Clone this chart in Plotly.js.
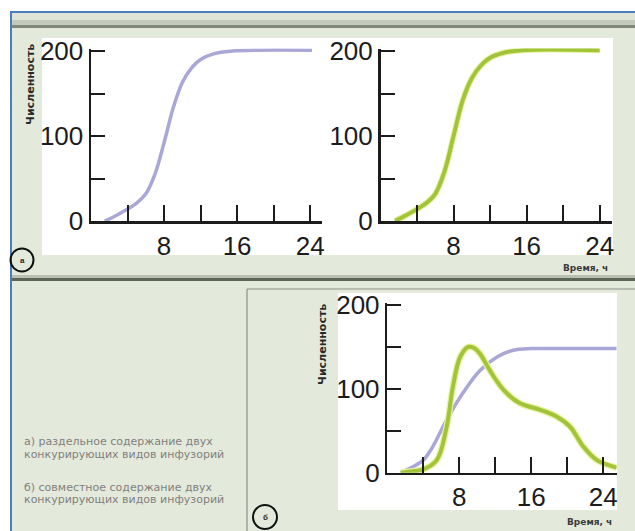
<!DOCTYPE html>
<html><head><meta charset="utf-8">
<script src="https://cdn.plot.ly/plotly-3.0.1.min.js"></script>
<style>html,body{margin:0;padding:0;background:#fff;}#chart{width:635px;height:531px;}</style>
</head><body><div id="chart"></div>
<script>
// ---- data ----
const xTickVals = [4, 8, 12, 16, 20, 24];
const xTickText = ['', '8', '', '16', '', '24'];
const yTickVals = [0, 50, 100, 150, 200];
const yTickText = ['0', '', '100', '', '200'];

// (а) separate cultures — species 1 (lavender)
const aSp1Time = [1.5, 2.5, 4, 5, 6, 7, 8, 9, 10, 11, 12, 13.5, 15.5, 18, 24.2];
const aSp1Count = [0, 5, 14, 21, 32, 55, 92, 133, 163, 180, 190, 197, 200, 201, 201];
// (а) separate cultures — species 2 (green)
const aSp2Time = [1.6, 2.5, 4, 5, 6, 7, 8, 9, 10, 11, 12, 13.5, 15.5, 24];
const aSp2Count = [0, 5, 14, 21, 32, 58, 100, 142, 168, 183, 192, 198, 201, 201];
// (б) joint culture — species 1 (lavender)
const bSp1Time = [1.5, 3, 4, 5, 6.6, 8.4, 10.3, 12.2, 14, 16, 20, 25.5];
const bSp1Count = [0, 8, 15, 30, 63, 95, 122, 138, 146, 148, 148, 148];
// (б) joint culture — species 2 (green)
const bSp2Time = [1.5, 3, 4, 5.5, 6.6, 7.3, 8.1, 9, 9.6, 10.3, 11.4, 12.9, 14.7, 17, 18.8, 20.3, 21.8, 23.3, 25.5];
const bSp2Count = [0, 2, 4, 15, 55, 103, 138, 150, 149, 142, 122, 99, 83, 75, 67, 55, 31, 15, 6];

const yTitle = 'Численность';
const xTitle = 'Время, ч';
const captionLines = [
  'а) раздельное содержание двух',
  'конкурирующих видов инфузорий',
  'б) совместное содержание двух',
  'конкурирующих видов инфузорий'
];

// ---- styling ----
const W = 635, H = 531;
const px = x => x / W;
const py = y => 1 - y / H;
const PURPLE = '#a9a6d8';
const GREEN = '#a2c43a';
const HALO = '#e6f29a';
const INK = '#1c1c1c';
const PANEL = '#e4eadb';
const NUMFONT = "'Liberation Sans Narrow', 'Arial Narrow', 'Liberation Sans', Arial, sans-serif";

function xAx(d0, d1, anchor, maxX) {
  return {
    domain: [px(d0), px(d1)], range: [0, maxX], anchor: anchor,
    tickmode: 'array', tickvals: xTickVals, ticktext: xTickText,
    ticks: 'inside', ticklen: 16, tickwidth: 2, tickcolor: INK,
    showline: true, linecolor: INK, linewidth: 2.5,
    showgrid: false, zeroline: false, fixedrange: true,
    tickfont: {family: NUMFONT, size: 26, color: INK}
  };
}
function yAx(top, bottom, anchor) {
  return {
    domain: [py(bottom), py(top)], range: [0, 203], anchor: anchor,
    tickmode: 'array', tickvals: yTickVals, ticktext: yTickText,
    ticks: 'inside', ticklen: 14, tickwidth: 2, tickcolor: INK,
    showline: true, linecolor: INK, linewidth: 2.5,
    showgrid: false, zeroline: false, fixedrange: true,
    tickfont: {family: NUMFONT, size: 26, color: INK}
  };
}

const line = (x, y, color, width, xa, ya) => ({
  x: x, y: y, xaxis: xa, yaxis: ya, type: 'scatter', mode: 'lines',
  line: {color: color, width: width, shape: 'spline', smoothing: 1},
  hoverinfo: 'skip', showlegend: false
});

const traces = [
  line(aSp1Time, aSp1Count, PURPLE, 3.5, 'x', 'y'),
  line(aSp2Time, aSp2Count, HALO, 6, 'x2', 'y2'),
  line(aSp2Time, aSp2Count, GREEN, 4, 'x2', 'y2'),
  line(bSp1Time, bSp1Count, PURPLE, 3.5, 'x3', 'y3'),
  line(bSp2Time, bSp2Count, HALO, 6.5, 'x3', 'y3'),
  line(bSp2Time, bSp2Count, GREEN, 4, 'x3', 'y3')
];

const rect = (x0, y0, x1, y1, fill) => ({type: 'rect', xref: 'paper', yref: 'paper',
  x0: px(x0), x1: px(x1), y0: py(y1), y1: py(y0), fillcolor: fill, line: {width: 0}, layer: 'below'});
const seg = (x0, y0, x1, y1, color, width) => ({type: 'line', xref: 'paper', yref: 'paper',
  x0: px(x0), x1: px(x1), y0: py(y0), y1: py(y1), line: {color: color, width: width}, layer: 'below'});
const circ = (cx, cy, r) => ({type: 'circle', xref: 'paper', yref: 'paper',
  x0: px(cx - r), x1: px(cx + r), y0: py(cy + r), y1: py(cy - r), line: {color: '#111', width: 2}, layer: 'above'});

const shapes = [
  rect(12, 13, 635, 531, PANEL),
  rect(12, 13, 635, 20, '#dfe4d6'),
  rect(12, 20, 635, 25, '#c4cbba'),
  rect(12, 25, 635, 28, '#7f8977'),
  rect(42, 38, 613, 255, '#ffffff'),
  rect(12, 275, 635, 278, '#b9c0b0'),
  rect(12, 278, 635, 281, '#5c6657'),
  seg(247, 289, 635, 289, '#8a8f86', 1.2),
  seg(247, 289, 247, 531, '#8a8f86', 1.2),
  rect(338, 293, 617, 510, '#ffffff'),
  seg(10, 12, 635, 12, '#4a7ec0', 2),
  seg(11, 12, 11, 531, '#4a7ec0', 2),
  circ(22, 260, 11.5),
  circ(265, 517, 12)
];

const ann = (x, y, text, opts) => Object.assign({xref: 'paper', yref: 'paper', x: px(x), y: py(y),
  text: text, showarrow: false, xanchor: 'center', yanchor: 'middle'}, opts);
const titleFont = {family: "'DejaVu Sans', Verdana, sans-serif", size: 11, color: '#2a2a2a'};
const xtFont = {family: "'DejaVu Sans', Verdana, sans-serif", size: 9, color: '#3c3c3c'};
const capFont = {family: "'DejaVu Sans', Verdana, sans-serif", size: 11, color: '#808080'};

const annotations = [
  ann(30, 85, '<b>' + yTitle + '</b>', {textangle: -90, font: titleFont}),
  ann(322, 345, '<b>' + yTitle + '</b>', {textangle: -90, font: titleFont}),
  ann(585, 268, '<b>' + xTitle + '</b>', {font: xtFont}),
  ann(589, 522, '<b>' + xTitle + '</b>', {font: xtFont}),
  ann(22, 260, '<b>а</b>', {font: {family: "'Liberation Sans', Arial", size: 8, color: '#222'}}),
  ann(265, 517, '<b>б</b>', {font: {family: "'Liberation Sans', Arial", size: 8, color: '#222'}}),
  ann(22, 441, captionLines[0], {xanchor: 'left', font: capFont}),
  ann(22, 454, captionLines[1], {xanchor: 'left', font: capFont}),
  ann(22, 487, captionLines[2], {xanchor: 'left', font: capFont}),
  ann(22, 500, captionLines[3], {xanchor: 'left', font: capFont})
];

const layout = {
  width: W, height: H, margin: {l: 0, r: 0, t: 0, b: 0},
  paper_bgcolor: '#ffffff', plot_bgcolor: 'rgba(0,0,0,0)',
  showlegend: false,
  xaxis: xAx(91, 322, 'y', 25.3),
  yaxis: yAx(48.5, 221, 'x'),
  xaxis2: xAx(380.5, 611.5, 'y2', 25.3),
  yaxis2: yAx(48.5, 221, 'x2'),
  xaxis3: xAx(387.3, 616.7, 'y3', 25.5),
  yaxis3: yAx(302.5, 472.7, 'x3'),
  shapes: shapes,
  annotations: annotations
};

Plotly.newPlot('chart', traces, layout, {staticPlot: true, displayModeBar: false});
</script>
</body></html>
